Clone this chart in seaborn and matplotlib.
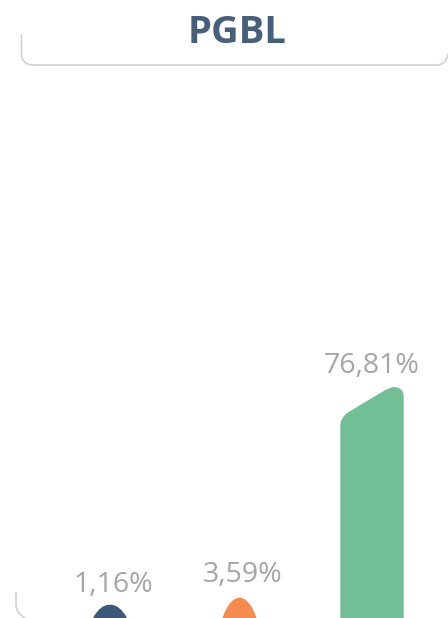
import matplotlib
matplotlib.use("Agg")
import matplotlib.pyplot as plt
import seaborn as sns
import pandas as pd
import numpy as np
from matplotlib.path import Path
from matplotlib.patches import PathPatch

# ---- data ----
categories = ["A", "B", "C"]
values = [1.16, 3.59, 76.81]
labels = ["1,16%", "3,59%", "76,81%"]
colors = ["#3d5878", "#f58b4c", "#73bf95"]
title = "PGBL"

sns.set_theme(style="white")
plt.rcParams["font.family"] = ["Open Sans", "DejaVu Sans"]

W, H = 448, 618
fig = plt.figure(figsize=(W / 100, H / 100), dpi=100)
fig.patch.set_facecolor("white")
ax = fig.add_axes([0, 0, 1, 1])

df = pd.DataFrame({"cat": categories, "val": values})
sns.barplot(data=df, x="cat", y="val", hue="cat", palette=colors,
            saturation=1, width=0.49, legend=False, ax=ax)

# scales
px_per_x = 129.5
c0 = 113.0
ax.set_xlim(-c0 / px_per_x, (W - c0) / px_per_x)
s = 2.877       # px per percent
base = 10.0     # px of zero above bottom
ax.set_ylim(-base / s, (H - base) / s)
ax.axis("off")

fig.canvas.draw()
tr = ax.transData
inv = tr.inverted()

for p in list(ax.patches):
    x0, w, h = p.get_x(), p.get_width(), p.get_height()
    fc = p.get_facecolor()
    (L, B0), (R, Tup) = tr.transform([(x0, 0), (x0 + w, h)])
    B = 0.0  # axes bottom in px
    cx = (L + R) / 2
    if Tup - B > 40:
        S = 30.0
        k = S / 50.0
        verts = [
            (L, B),
            (L, Tup - S - 9),
            (L, Tup - S), (L + 9, Tup - S + 9 * k),
            (L + 41, Tup - 9 * k),
            (L + 50, Tup), (R - 10, Tup),
            (R, Tup), (R, Tup - 10),
            (R, B),
            (L, B),
        ]
        codes = [Path.MOVETO, Path.LINETO,
                 Path.CURVE3, Path.CURVE3,
                 Path.LINETO,
                 Path.CURVE3, Path.CURVE3,
                 Path.CURVE3, Path.CURVE3,
                 Path.LINETO, Path.CLOSEPOLY]
    else:
        mc = cx - 3
        hw = 17.0
        c = (Tup - B) / 0.75
        verts = [
            (mc - hw, B),
            (mc - hw * 0.45, B + c), (mc + hw * 0.45, B + c), (mc + hw, B),
            (mc - hw, B),
        ]
        codes = [Path.MOVETO, Path.CURVE4, Path.CURVE4, Path.CURVE4,
                 Path.CLOSEPOLY]
    dverts = inv.transform(verts)
    ax.add_patch(PathPatch(Path(dverts, codes), facecolor=fc,
                           edgecolor="none", zorder=3, clip_on=False))
    p.set_visible(False)

# value labels
offsets = [9, 11, 10]
for i, (v, lab) in enumerate(zip(values, labels)):
    ax.annotate(lab, xy=(i, v), xytext=(0, offsets[i]), textcoords="offset points",
                ha="center", va="baseline", fontsize=20.5,
                color="#a5a5a5", family=["Open Sans", "DejaVu Sans"])

# title
fig.text(237.5 / W, 1 - 43 / H, title, ha="center", va="baseline",
         fontsize=27.5, fontweight="bold", color="#46607c",
         family=["Open Sans", "DejaVu Sans"])

# decorative bracket lines (figure pixel coords)
def fpath(pts, codes):
    pts = [(x / W, 1 - y / H) for x, y in pts]
    return PathPatch(Path(pts, codes), facecolor="none", edgecolor="#d2d2d2",
                     lw=1.2, transform=fig.transFigure)

top = fpath([(21.5, 34), (21.5, 53), (21.5, 65), (33.5, 65),
             (437, 65), (446, 65), (448, 54)],
            [Path.MOVETO, Path.LINETO, Path.CURVE3, Path.CURVE3,
             Path.LINETO, Path.CURVE3, Path.CURVE3])
fig.patches.append(top)
bot = fpath([(16, 592), (16, 605), (17, 617), (31, 620)],
            [Path.MOVETO, Path.LINETO, Path.CURVE3, Path.CURVE3])
fig.patches.append(bot)

fig.savefig("out.png", dpi=100, facecolor="white")
